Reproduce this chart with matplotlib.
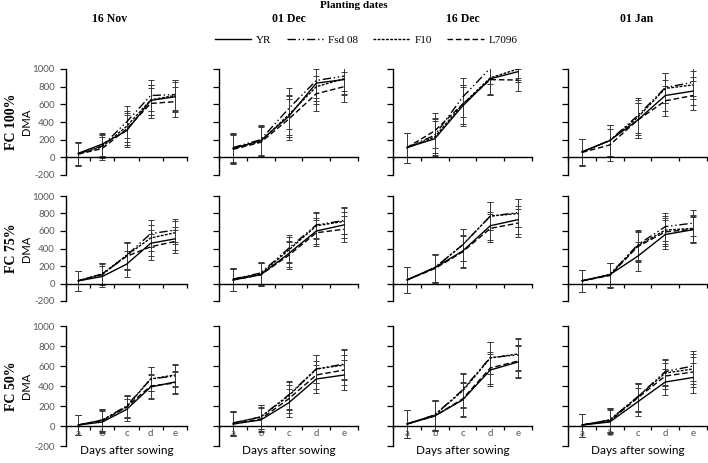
import numpy as np
import matplotlib
matplotlib.use("Agg")
import matplotlib.pyplot as plt

# ---------------------------------------------------------------- data
stages = ["a", "b", "c", "d", "e"]
dates = ["16 Nov", "01 Dec", "16 Dec", "01 Jan"]
treatments = ["FC 100%", "FC 75%", "FC 50%"]
cultivars = ["YR", "Fsd 08", "F10", "L7096"]

# DMA means, [treatment][date] -> one list per cultivar (YR, Fsd 08, F10, L7096)
fc100_nov = [[45, 150, 300, 645, 685], [40, 130, 400, 700, 710], [40, 120, 350, 650, 700], [35, 100, 320, 610, 630]]
fc100_dec = [[100, 190, 460, 840, 880], [110, 200, 550, 870, 920], [100, 180, 480, 800, 890], [90, 170, 430, 720, 800]]
fc100_dec16 = [[110, 210, 580, 890, 970], [110, 250, 680, 1010, 1020], [110, 230, 600, 900, 1000], [110, 300, 600, 880, 875]]
fc100_jan = [[60, 190, 420, 700, 750], [60, 190, 470, 790, 850], [60, 190, 450, 780, 820], [55, 140, 420, 640, 700]]

fc75_nov = [[30, 80, 220, 460, 510], [30, 100, 320, 570, 610], [30, 110, 320, 520, 580], [30, 110, 310, 420, 480]]
fc75_dec = [[40, 100, 340, 600, 670], [50, 120, 400, 670, 720], [50, 110, 380, 660, 710], [40, 100, 320, 580, 620]]
fc75_dec16 = [[40, 180, 370, 660, 730], [40, 180, 440, 770, 810], [40, 180, 440, 770, 800], [40, 170, 360, 630, 690]]
fc75_jan = [[30, 100, 310, 560, 615], [30, 100, 440, 650, 690], [30, 100, 430, 610, 630], [30, 90, 420, 590, 620]]

fc50_nov = [[10, 40, 165, 390, 440], [10, 60, 200, 470, 500], [10, 60, 190, 470, 510], [10, 50, 190, 400, 430]]
fc50_dec = [[20, 60, 230, 470, 510], [30, 90, 310, 570, 620], [30, 90, 300, 570, 610], [20, 70, 270, 510, 560]]
fc50_dec16 = [[20, 100, 260, 560, 640], [20, 110, 360, 685, 710], [20, 110, 350, 680, 720], [20, 100, 270, 580, 650]]
fc50_jan = [[10, 40, 240, 440, 485], [10, 60, 290, 545, 600], [10, 60, 290, 530, 570], [10, 50, 280, 500, 540]]

means = [[fc100_nov, fc100_dec, fc100_dec16, fc100_jan],
         [fc75_nov, fc75_dec, fc75_dec16, fc75_jan],
         [fc50_nov, fc50_dec, fc50_dec16, fc50_jan]]

# error bar half-widths, one list per panel (shared by the cultivars)
err100 = [[130, 130, 180, 170, 170], [160, 170, 230, 200, 170], [170, 200, 220, 180, 120], [150, 180, 200, 170, 160]]
err75 = [[115, 120, 150, 150, 130], [130, 130, 150, 150, 150], [150, 160, 180, 160, 160], [130, 140, 170, 160, 150]]
err50 = [[100, 110, 110, 120, 110], [120, 120, 140, 140, 150], [140, 150, 170, 160, 160], [115, 120, 140, 130, 150]]
errs = [err100, err75, err50]

# ---------------------------------------------------------------- style
W, H = 708, 463
line_styles = ["-", (0, (6, 2, 1, 2, 1, 2)), (0, (2, 1)), (0, (4, 2))]
serif = "Liberation Serif"
sans = "Lato"
grey = "#595959"

col_px = [(66, 187), (219, 358), (393, 532), (568, 707)]
row_px = [(69, 175), (196, 301), (326, 446)]

fig = plt.figure(figsize=(W / 100, H / 100), dpi=100)

x = np.arange(len(stages))
handles = []
for r, (top, bot) in enumerate(row_px):
    for c, (left, right) in enumerate(col_px):
        ax = fig.add_axes([left / W, 1 - bot / H, (right - left) / W, (bot - top) / H])
        for k in range(len(cultivars)):
            ax.errorbar(x, means[r][c][k], yerr=errs[r][c], color="#3a3a3a",
                        elinewidth=0.7, capsize=2.5, capthick=0.7, lw=0, zorder=2)
            ln, = ax.plot(x, means[r][c][k], color="black", lw=1.0,
                          linestyle=line_styles[k], zorder=3, label=cultivars[k])
            if r == 0 and c == 0:
                handles.append(ln)
        ax.set_xlim(-0.5, 4.5)
        ax.set_ylim(-200, 1000)
        for s in ["top", "right"]:
            ax.spines[s].set_visible(False)
        ax.spines["bottom"].set_position(("data", 0))
        ax.spines["bottom"].set_linewidth(1.0)
        ax.spines["left"].set_linewidth(1.0)
        ax.set_xticks(x)
        ax.set_xticks(np.arange(-0.5, 5, 1), minor=True)
        ax.tick_params(axis="x", which="major", length=0, pad=2)
        ax.tick_params(axis="x", which="minor", length=3, direction="out", width=0.9)
        ax.set_yticks(np.arange(-200, 1001, 200))
        ax.tick_params(axis="y", length=4, direction="out", width=0.9, pad=4)
        if r == 2:
            ax.set_xticklabels(stages, fontsize=7, color=grey, family=sans)
            ax.text(0.5, 1 - (451 - top) / (bot - top), "Days after sowing",
                    transform=ax.transAxes, ha="center", va="center",
                    fontsize=8.5, family=sans)
        else:
            ax.set_xticklabels([])
        if c == 0:
            ax.set_yticklabels([str(v) for v in range(-200, 1001, 200)],
                               fontsize=7, color=grey, family=sans)
            ax.set_ylabel("DMA", fontsize=8, family=sans)
            ax.yaxis.set_label_coords((32 - left) / (right - left), 0.5)
        else:
            ax.set_yticklabels([])

# row labels
for r, (top, bot) in enumerate(row_px):
    fig.text(12 / W, 1 - (top + bot) / 2 / H, treatments[r], rotation=90,
             ha="center", va="center", fontsize=10, fontweight="bold", family=serif)

# column titles
title_x = [110, 289, 463, 637]
for c, d in enumerate(dates):
    fig.text(title_x[c] / W, 1 - 19 / H, d, ha="center", va="center",
             fontsize=8.5, fontweight="bold", family=serif)

fig.text(354 / W, 1 - 5 / H, "Planting dates", ha="center", va="center",
         fontsize=8, fontweight="bold", family=serif)

fig.legend(handles, cultivars, loc="center", bbox_to_anchor=(366 / W, 1 - 40 / H),
           ncol=4, frameon=False, handlelength=3.3, columnspacing=1.4,
           handletextpad=0.4, prop={"family": serif, "size": 8})

fig.savefig("out.png", dpi=100)
